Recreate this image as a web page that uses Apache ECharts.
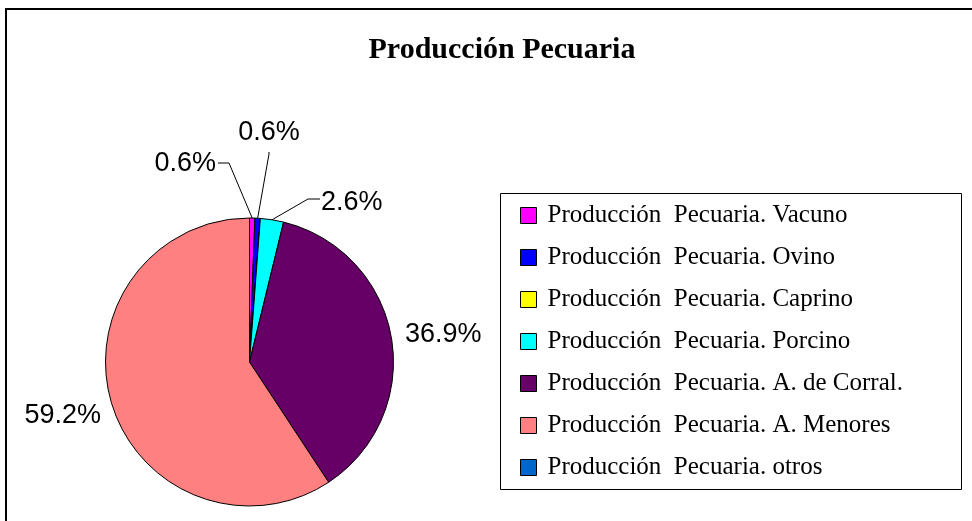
<!DOCTYPE html>
<html>
<head>
<meta charset="utf-8">
<script src="https://cdn.jsdelivr.net/npm/echarts@6/dist/echarts.min.js"></script>
<style>
html,body{margin:0;padding:0;background:#fff;}
#chart{width:972px;height:521px;}
</style>
</head>
<body>
<div id="chart"></div>
<script>
// ---- data ----
var titleText = 'Producción Pecuaria';
var categories = [
  'Producción  Pecuaria. Vacuno',
  'Producción  Pecuaria. Ovino',
  'Producción  Pecuaria. Caprino',
  'Producción  Pecuaria. Porcino',
  'Producción  Pecuaria. A. de Corral.',
  'Producción  Pecuaria. A. Menores',
  'Producción  Pecuaria. otros'
];
var shares = [0.6, 0.6, 0, 2.6, 36.9, 59.2, 0];

// ---- styles ----
var sliceColors = ['#FF00FF', '#0000FF', '#FFFF00', '#00FFFF', '#660066', '#FF8080', '#0066CC'];
// label placement (x, y, align, line elbow points) per slice index
var labelPlace = {
  0: {x: 216, y: 164, align: 'right', line: [[229, 163], [218, 163]]},
  1: {x: 269, y: 133, align: 'center', line: [[269, 154], [269, 152]]},
  3: {x: 321, y: 203, align: 'left', line: [[308, 199], [320, 199]]},
  4: {x: 405, y: 335, align: 'left', line: null},
  5: {x: 101, y: 416, align: 'right', line: null}
};

var pieData = categories.map(function (name, i) {
  var hasLine = labelPlace[i] && labelPlace[i].line;
  return {
    name: name,
    value: shares[i],
    itemStyle: {color: sliceColors[i]},
    label: {show: shares[i] > 0},
    labelLine: {show: !!hasLine}
  };
});

var chart = echarts.init(document.getElementById('chart'), null, {renderer: 'canvas'});
chart.setOption({
  animation: false,
  backgroundColor: '#ffffff',
  title: {
    text: titleText,
    left: 497,
    top: 30,
    textAlign: 'center',
    textStyle: {
      fontFamily: 'Liberation Serif',
      fontWeight: 'bold',
      fontSize: 30,
      color: '#000'
    }
  },
  legend: {
    orient: 'vertical',
    left: 520,
    top: 203,
    padding: 0,
    itemWidth: 16,
    itemHeight: 16,
    itemGap: 17,
    icon: 'rect',
    selectedMode: false,
    itemStyle: {borderColor: '#000', borderWidth: 1},
    textStyle: {
      fontFamily: 'Liberation Serif',
      fontSize: 25,
      lineHeight: 25,
      color: '#000',
      padding: [0, 0, 0, 6]
    },
    data: categories
  },
  graphic: [
    {
      type: 'rect',
      shape: {x: 6, y: 9, width: 1000, height: 600},
      style: {fill: 'none', stroke: '#000', lineWidth: 2},
      silent: true
    },
    {
      type: 'rect',
      shape: {x: 500.5, y: 193.5, width: 461, height: 296},
      style: {fill: 'none', stroke: '#000', lineWidth: 1},
      silent: true,
      z: -1
    }
  ],
  series: [{
    type: 'pie',
    center: [249.5, 362],
    radius: 144,
    startAngle: 90,
    clockwise: true,
    avoidLabelOverlap: false,
    stillShowZeroSum: true,
    itemStyle: {borderColor: '#000', borderWidth: 1},
    label: {
      show: true,
      position: 'outside',
      fontFamily: 'Liberation Sans',
      fontSize: 27,
      color: '#000',
      formatter: function (p) { return p.value.toFixed(1) + '%'; }
    },
    labelLine: {
      show: true,
      length: 10,
      length2: 10,
      lineStyle: {color: '#000', width: 1}
    },
    labelLayout: function (params) {
      var pl = labelPlace[params.dataIndex];
      if (!pl) return {};
      var res = {x: pl.x, y: pl.y, align: pl.align, verticalAlign: 'middle'};
      if (pl.line && params.labelLinePoints) {
        res.labelLinePoints = [params.labelLinePoints[0], pl.line[0], pl.line[1]];
      }
      return res;
    },
    data: pieData
  }]
});
</script>
</body>
</html>
